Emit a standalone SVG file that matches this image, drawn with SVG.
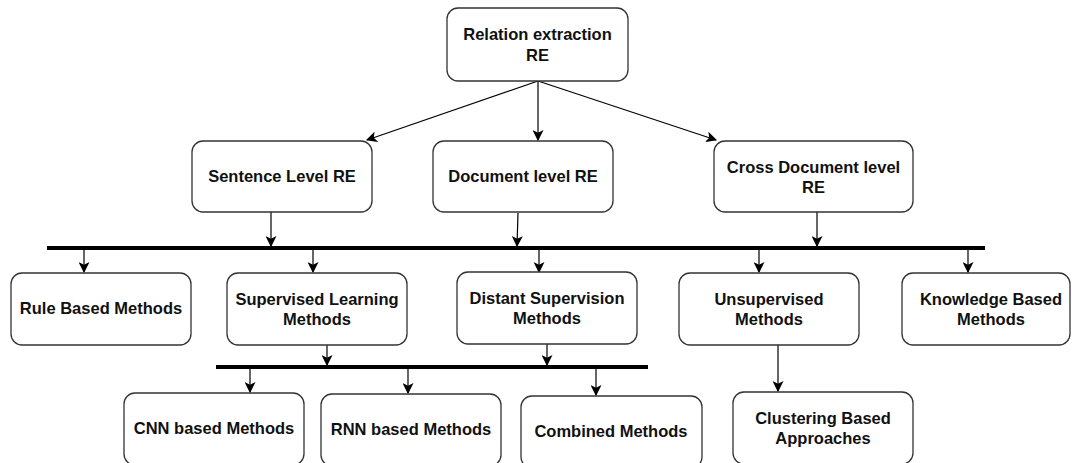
<svg xmlns="http://www.w3.org/2000/svg" width="1072" height="463" viewBox="0 0 1072 463">
  <style>
    .box { fill: #ffffff; stroke: #333333; stroke-width: 1.3; }
    .lbl { font-family: "Liberation Sans", Arial, sans-serif; font-size: 16.5px; font-weight: bold; fill: #111111; text-anchor: middle; }
    .edge { stroke: #000000; stroke-width: 1.2; fill: none; marker-end: url(#arrow); }
    .bus { stroke: #000000; stroke-width: 4; }
  </style>
  <defs>
    <marker id="arrow" viewBox="0 0 10 10" refX="9" refY="5" markerWidth="11" markerHeight="11" markerUnits="userSpaceOnUse" orient="auto">
      <path d="M0,0 L10,5 L0,10 L2.5,5 z" fill="#000000"/>
    </marker>
  </defs>
  <rect width="1072" height="463" fill="#ffffff"/>

  <!-- connectors -->
  <g id="connectors">
    <line class="bus" x1="47" y1="248" x2="985" y2="248"/>
    <line class="bus" x1="216" y1="367" x2="648" y2="367"/>
    <!-- root to levels -->
    <line class="edge" x1="538" y1="81" x2="367" y2="140"/>
    <line class="edge" x1="538" y1="81" x2="538" y2="140"/>
    <line class="edge" x1="538" y1="81" x2="716" y2="140"/>
    <!-- levels to bus -->
    <line class="edge" x1="271" y1="212" x2="271" y2="246"/>
    <line class="edge" x1="518" y1="213" x2="517" y2="246"/>
    <line class="edge" x1="817" y1="212" x2="817" y2="246"/>
    <!-- bus to method families -->
    <line class="edge" x1="84" y1="250" x2="84" y2="272"/>
    <line class="edge" x1="313" y1="250" x2="313" y2="272"/>
    <line class="edge" x1="539" y1="250" x2="539" y2="272"/>
    <line class="edge" x1="759" y1="250" x2="759" y2="272"/>
    <line class="edge" x1="968" y1="250" x2="968" y2="272"/>
    <!-- learning methods to lower bus -->
    <line class="edge" x1="327" y1="345" x2="327" y2="365"/>
    <line class="edge" x1="547" y1="344" x2="547" y2="365"/>
    <!-- lower bus to neural families -->
    <line class="edge" x1="250" y1="369" x2="250" y2="392"/>
    <line class="edge" x1="408" y1="369" x2="408" y2="393"/>
    <line class="edge" x1="596" y1="369" x2="596" y2="395"/>
    <!-- unsupervised to clustering -->
    <line class="edge" x1="778" y1="345" x2="778" y2="391"/>
  </g>

  <g id="relation-extraction">
    <rect class="box" x="447" y="8" width="181" height="73" rx="11"/>
    <text class="lbl" x="537.5" y="40">Relation extraction</text>
    <text class="lbl" x="537.5" y="61">RE</text>
  </g>

  <g id="sentence-level">
    <rect class="box" x="192" y="141" width="180" height="71" rx="11"/>
    <text class="lbl" x="282" y="182">Sentence Level RE</text>
  </g>

  <g id="document-level">
    <rect class="box" x="433" y="141" width="180" height="71" rx="11"/>
    <text class="lbl" x="523" y="182">Document level RE</text>
  </g>

  <g id="cross-document-level">
    <rect class="box" x="714" y="141" width="199" height="71" rx="11"/>
    <text class="lbl" x="813.5" y="173">Cross Document level</text>
    <text class="lbl" x="813.5" y="193">RE</text>
  </g>

  <g id="rule-based">
    <rect class="box" x="11" y="273" width="180" height="72" rx="11"/>
    <text class="lbl" x="101" y="314">Rule Based Methods</text>
  </g>

  <g id="supervised-learning">
    <rect class="box" x="227" y="273" width="180" height="72" rx="11"/>
    <text class="lbl" x="317" y="305">Supervised Learning</text>
    <text class="lbl" x="317" y="325">Methods</text>
  </g>

  <g id="distant-supervision">
    <rect class="box" x="457" y="272" width="180" height="72" rx="11"/>
    <text class="lbl" x="547" y="304">Distant Supervision</text>
    <text class="lbl" x="547" y="324">Methods</text>
  </g>

  <g id="unsupervised">
    <rect class="box" x="679" y="273" width="180" height="72" rx="11"/>
    <text class="lbl" x="769" y="305">Unsupervised</text>
    <text class="lbl" x="769" y="325">Methods</text>
  </g>

  <g id="knowledge-based">
    <rect class="box" x="902" y="273" width="168" height="72" rx="11"/>
    <text class="lbl" x="991" y="305">Knowledge Based</text>
    <text class="lbl" x="991" y="325">Methods</text>
  </g>

  <g id="cnn-based">
    <rect class="box" x="124" y="393" width="180" height="72" rx="11"/>
    <text class="lbl" x="214" y="434">CNN based Methods</text>
  </g>

  <g id="rnn-based">
    <rect class="box" x="321" y="394" width="180" height="72" rx="11"/>
    <text class="lbl" x="411" y="435">RNN based Methods</text>
  </g>

  <g id="combined">
    <rect class="box" x="521" y="396" width="181" height="72" rx="11"/>
    <text class="lbl" x="611" y="437">Combined Methods</text>
  </g>

  <g id="clustering-based">
    <rect class="box" x="733" y="392" width="180" height="72" rx="11"/>
    <text class="lbl" x="823" y="424">Clustering Based</text>
    <text class="lbl" x="823" y="444">Approaches</text>
  </g>
</svg>
